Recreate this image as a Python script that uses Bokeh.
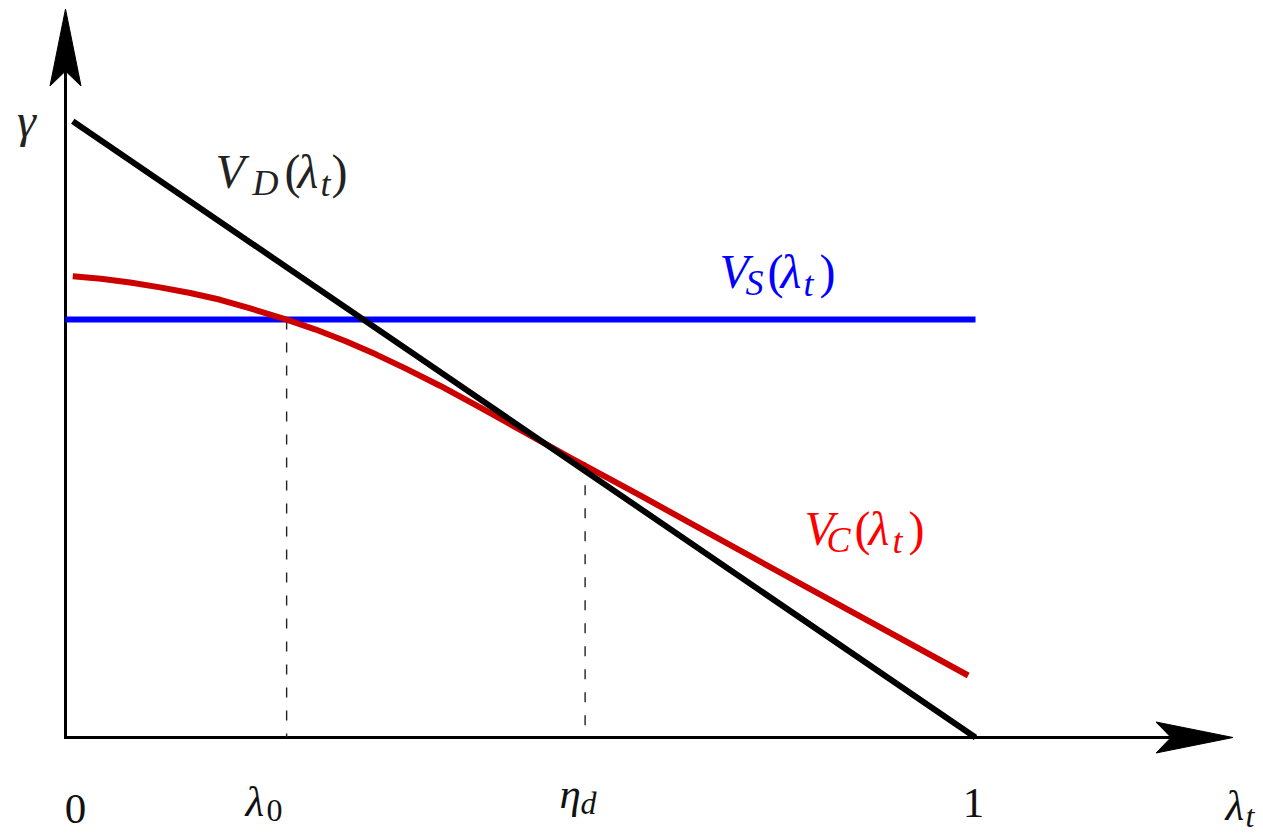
from bokeh.plotting import figure
from bokeh.models import Range1d
from bokeh.core.properties import value
from bokeh.embed import file_html
from bokeh.resources import INLINE

# ---------------- data (lambda_t on x, gamma on y) ----------------
vd_x = [0.008, 1.0]
vd_y = [0.994, 0.0]

vs_x = [0.0, 1.0]
vs_y = [0.674, 0.674]

vc_x = [0.008, 0.039, 0.071, 0.104, 0.137, 0.170, 0.203, 0.243, 0.275,
        0.308, 0.341, 0.374, 0.412, 0.456, 0.555, 0.632, 0.815, 0.992]
vc_y = [0.744, 0.740, 0.734, 0.726, 0.717, 0.706, 0.692, 0.674, 0.658,
        0.639, 0.618, 0.595, 0.567, 0.532, 0.451, 0.390, 0.242, 0.100]

lambda0 = 0.243
eta_d = 0.571
eta_top = 0.444
vs_level = 0.674

x_axis_end = 1.283
y_axis_end = 1.175

# label texts
label_vd = ["V", "D", "(", "λ", "t", ")"]
label_vs = ["V", "S", "(", "λ", "t", ")"]
label_vc = ["V", "C", "(", "λ", "t", ")"]
label_gamma = "γ"
tick_zero = "0"
tick_one = "1"
tick_lambda0 = ["λ", "0"]
tick_eta = ["η", "d"]
label_lambdat = ["λ", "t"]

# ---------------- layout ----------------
W, H = 1263, 836
PX_X, PX_Y = 910.0, 620.0          # pixels per data unit
ORIGIN_X, ORIGIN_Y = 65.0, 737.0   # page pixels of data origin
x0 = -ORIGIN_X / PX_X
x1 = x0 + W / PX_X
y1 = ORIGIN_Y / PX_Y
y0 = y1 - H / PX_Y
BASE_FIX = 0.36                    # em correction for the rendered baseline


def X(px):
    return (px - ORIGIN_X) / PX_X


def Y(py):
    return (ORIGIN_Y - py) / PX_Y


p = figure(width=W, height=H, x_range=Range1d(x0, x1), y_range=Range1d(y0, y1),
           x_axis_type=None, y_axis_type=None, toolbar_location=None,
           output_backend="svg", min_border=0)
p.outline_line_color = None
p.grid.visible = False
p.background_fill_color = "white"
p.border_fill_color = "white"

FONT = "Liberation Serif"

# axes
arrow_len, arrow_notch, arrow_half = 77.0, 62.0, 15.5
p.line([x_axis_end - arrow_notch / PX_X, 0, 0], [0, 0, y_axis_end - arrow_notch / PX_Y],
       line_color="black", line_width=3, line_join="miter")
p.patch([x_axis_end, x_axis_end - arrow_len / PX_X, x_axis_end - arrow_notch / PX_X,
         x_axis_end - arrow_len / PX_X],
        [0, arrow_half / PX_Y, 0, -arrow_half / PX_Y],
        fill_color="black", line_color="black", line_width=1)
p.patch([0, arrow_half / PX_X, 0, -arrow_half / PX_X],
        [y_axis_end, y_axis_end - arrow_len / PX_Y, y_axis_end - arrow_notch / PX_Y,
         y_axis_end - arrow_len / PX_Y],
        fill_color="black", line_color="black", line_width=1)

# dashed guides
p.line([lambda0, lambda0], [vs_level, 0], line_color="#222222", line_width=1.4,
       line_dash="10 13")
p.line([eta_d, eta_d], [eta_top, 0], line_color="#222222", line_width=1.4,
       line_dash="10 13")

# curves
p.line(vs_x, vs_y, line_color="#0000ff", line_width=6)
p.line(vc_x, vc_y, line_color="#cc0000", line_width=6, line_join="round")
p.line(vd_x, vd_y, line_color="black", line_width=6)


def put(text, left, base, size, color, style="italic", align="left"):
    p.text(x=[X(left)], y=[Y(base - BASE_FIX * size)], text=[text], text_font=value(FONT),
           text_font_style=style, text_font_size=f"{size}px", text_color=color,
           text_baseline="alphabetic", text_align=align)


def math_label(parts, lefts, bases, sizes, styles, color):
    for t, l, b, s, st in zip(parts, lefts, bases, sizes, styles):
        put(t, l, b, s, color, st)


BIG, SUB = 48, 36
STY = ["italic", "italic", "normal", "italic", "italic", "normal"]
SZ = [BIG, SUB, BIG, BIG, SUB, BIG]

math_label(label_vd, [215, 252, 284, 297, 320, 331], [188, 195, 188, 188, 196, 188],
           SZ, STY, "#222222")
math_label(label_vs, [719, 745, 767, 780, 803, 819], [288, 295, 288, 288, 296, 288],
           SZ, STY, "#0000ff")
math_label(label_vc, [804, 826, 854, 868, 892, 908], [545, 552, 545, 545, 553, 545],
           SZ, STY, "#ff0000")

put(label_gamma, 26, 137, BIG, "#222222", "italic", "center")

TB, TS = 43, 32
put(tick_zero, 75, 824, TB, "#111111", "normal", "center")
put(tick_one, 973, 818, TB, "#111111", "normal", "center")
math_label(tick_lambda0, [245, 266], [816, 822], [TB, TS], ["italic", "normal"], "#111111")
math_label(tick_eta, [559, 580], [808, 814], [TB, TS], ["italic", "italic"], "#111111")
math_label(label_lambdat, [1225, 1245], [820, 827], [TB, TS], ["italic", "italic"], "#111111")

open("out.html", "w").write(file_html(p, INLINE))
